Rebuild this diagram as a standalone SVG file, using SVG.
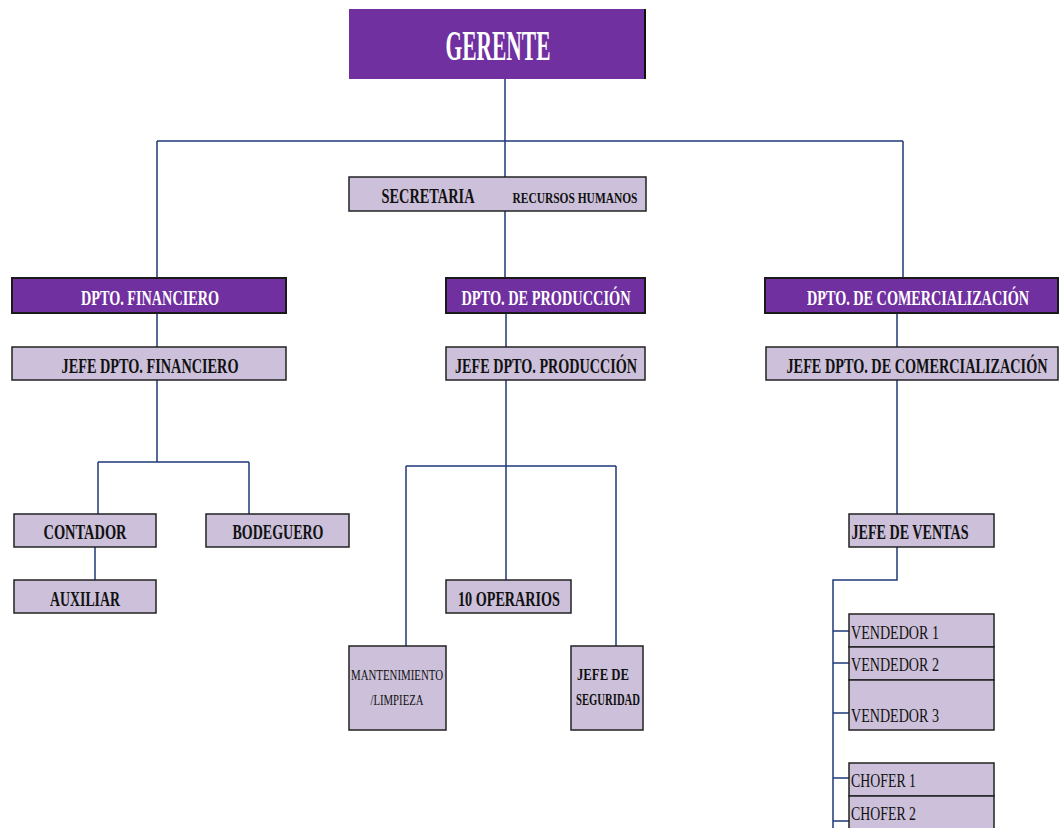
<svg xmlns="http://www.w3.org/2000/svg" width="1059" height="828" viewBox="0 0 1059 828">
<style>
.p{fill:#7030A0;stroke:#1a1a1a;stroke-width:2}
.l{fill:#CCC0DA;stroke:#222;stroke-width:1.5}
.tw{font-family:"Liberation Serif",serif;font-weight:bold;fill:#fff;text-anchor:middle}
.tb{font-family:"Liberation Serif",serif;font-weight:bold;fill:#111;text-anchor:middle}
.tn{font-family:"Liberation Serif",serif;fill:#111}
.c{fill:none;stroke:#1F3A7A;stroke-width:1.5}
</style>
<rect width="1059" height="828" fill="#fff"/>
<g id="connectors" class="c">
<path d="M505 79V278M157 141H903M157 141V278M903 141V278"/>
<path d="M157 313V347M157 380V462M98 462H249M98 462V514M249 462V514M95 547V580"/>
<path d="M506 313V347M506 380V580M406 466H616M406 466V648M616 466V646"/>
<path d="M897 313V347M897 380V514M897 547V580H833V828M833 631H849M833 663H849M833 713H849M833 778H849M833 821H849"/>
</g>
<g id="gerente"><rect x="349" y="9" width="297" height="70" fill="#7030A0"/><line x1="645" y1="9" x2="645" y2="79" stroke="#111" stroke-width="2"/><text class="tw" x="498" y="60" font-size="42" textLength="105" lengthAdjust="spacingAndGlyphs">GERENTE</text></g>
<g id="secretaria"><rect class="l" x="349" y="177" width="297" height="34"/><text class="tb" x="428" y="203" font-size="21" textLength="93" lengthAdjust="spacingAndGlyphs">SECRETARIA</text><text class="tb" x="575" y="203" font-size="15" textLength="125" lengthAdjust="spacingAndGlyphs">RECURSOS HUMANOS</text></g>
<g id="dpto-fin"><rect class="p" x="12" y="278" width="274" height="35"/><text class="tw" x="150" y="305" font-size="20" textLength="138" lengthAdjust="spacingAndGlyphs">DPTO. FINANCIERO</text></g>
<g id="jefe-fin"><rect class="l" x="12" y="347" width="274" height="33"/><text class="tb" x="150" y="373" font-size="21" textLength="177" lengthAdjust="spacingAndGlyphs">JEFE DPTO. FINANCIERO</text></g>
<g id="dpto-prod"><rect class="p" x="446" y="278" width="199" height="35"/><text class="tw" x="546" y="305" font-size="20" textLength="169" lengthAdjust="spacingAndGlyphs">DPTO. DE PRODUCCIÓN</text></g>
<g id="jefe-prod"><rect class="l" x="446" y="347" width="199" height="33"/><text class="tb" x="546" y="373" font-size="21" textLength="182" lengthAdjust="spacingAndGlyphs">JEFE DPTO. PRODUCCIÓN</text></g>
<g id="dpto-com"><rect class="p" x="765" y="278" width="293" height="35"/><text class="tw" x="918" y="305" font-size="20" textLength="222" lengthAdjust="spacingAndGlyphs">DPTO. DE COMERCIALIZACIÓN</text></g>
<g id="jefe-com"><rect class="l" x="766" y="347" width="292" height="33"/><text class="tb" x="917" y="373" font-size="21" textLength="261" lengthAdjust="spacingAndGlyphs">JEFE DPTO. DE COMERCIALIZACIÓN</text></g>
<g id="contador"><rect class="l" x="14" y="514" width="142" height="33"/><text class="tb" x="85" y="539" font-size="21" textLength="83" lengthAdjust="spacingAndGlyphs">CONTADOR</text></g>
<g id="bodeguero"><rect class="l" x="206" y="514" width="143" height="33"/><text class="tb" x="278" y="539" font-size="21" textLength="91" lengthAdjust="spacingAndGlyphs">BODEGUERO</text></g>
<g id="auxiliar"><rect class="l" x="14" y="580" width="142" height="33"/><text class="tb" x="85" y="606" font-size="21" textLength="70" lengthAdjust="spacingAndGlyphs">AUXILIAR</text></g>
<g id="operarios"><rect class="l" x="446" y="580" width="125" height="33"/><text class="tb" x="509" y="606" font-size="21" textLength="102" lengthAdjust="spacingAndGlyphs">10 OPERARIOS</text></g>
<g id="mantenimiento"><rect class="l" x="349" y="646" width="97" height="84"/><text class="tn" x="397" y="680" font-size="15" text-anchor="middle" textLength="92" lengthAdjust="spacingAndGlyphs">MANTENIMIENTO</text><text class="tn" x="397" y="705" font-size="15" text-anchor="middle" textLength="53" lengthAdjust="spacingAndGlyphs">/LIMPIEZA</text></g>
<g id="seguridad"><rect class="l" x="571" y="646" width="72" height="84"/><text class="tb" x="603" y="680" font-size="17" textLength="52" lengthAdjust="spacingAndGlyphs">JEFE DE</text><text class="tb" x="608" y="705" font-size="17" textLength="64" lengthAdjust="spacingAndGlyphs">SEGURIDAD</text></g>
<g id="jefe-ventas"><rect class="l" x="849" y="514" width="145" height="33"/><text class="tb" x="910" y="539" font-size="21" textLength="117" lengthAdjust="spacingAndGlyphs">JEFE DE VENTAS</text></g>
<g id="vendedor1"><rect class="l" x="849" y="614" width="145" height="33"/><text class="tn" x="851" y="639" font-size="19" textLength="88" lengthAdjust="spacingAndGlyphs">VENDEDOR 1</text></g>
<g id="vendedor2"><rect class="l" x="849" y="647" width="145" height="33"/><text class="tn" x="851" y="671" font-size="19" textLength="88" lengthAdjust="spacingAndGlyphs">VENDEDOR 2</text></g>
<g id="vendedor3"><rect class="l" x="849" y="680" width="145" height="50"/><text class="tn" x="851" y="722" font-size="19" textLength="88" lengthAdjust="spacingAndGlyphs">VENDEDOR 3</text></g>
<g id="chofer1"><rect class="l" x="849" y="763" width="145" height="33"/><text class="tn" x="851" y="787" font-size="19" textLength="65" lengthAdjust="spacingAndGlyphs">CHOFER 1</text></g>
<g id="chofer2"><rect class="l" x="849" y="796" width="145" height="40"/><text class="tn" x="851" y="820" font-size="19" textLength="65" lengthAdjust="spacingAndGlyphs">CHOFER 2</text></g>
</svg>
